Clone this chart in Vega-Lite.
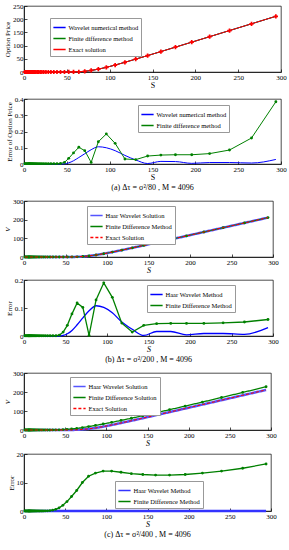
{
  "$schema": "https://vega.github.io/schema/vega-lite/v6.json",
  "padding": {"left": 3, "top": 1, "right": 2, "bottom": 0},
  "background": "white",
  "data": {"values": [
    {"S": 294, "P": 211, "wa": 0.028, "fa": 0.383, "wb": 0.03, "fb": 0.059, "fc": 16.5, "vc": 227.5, "h": 0},
    {"S": 265.6, "P": 182.6, "wa": 0.006, "fa": 0.16, "wb": 0.006, "fb": 0.05, "fc": 15, "vc": 197.6, "h": 0},
    {"S": 239.9, "P": 157, "wa": 0.009, "fa": 0.086, "wb": 0.009, "fb": 0.047, "fc": 14, "vc": 171, "h": 0},
    {"S": 216.7, "P": 133.8, "wa": 0.009, "fa": 0.064, "wb": 0.009, "fb": 0.045, "fc": 13.3, "vc": 147.1, "h": 0},
    {"S": 195.8, "P": 113, "wa": 0.004, "fa": 0.057, "wb": 0.004, "fb": 0.045, "fc": 12.8, "vc": 125.8, "h": 0},
    {"S": 176.8, "P": 94.2, "wa": 0.015, "fa": 0.057, "wb": 0.016, "fb": 0.045, "fc": 12.6, "vc": 106.8, "h": 0},
    {"S": 159.8, "P": 77.4, "wa": 0.016, "fa": 0.055, "wb": 0.016, "fb": 0.044, "fc": 12.6, "vc": 90, "h": 0},
    {"S": 144.3, "P": 62.2, "wa": 0.003, "fa": 0.049, "wb": 0.002, "fb": 0.038, "fc": 12.8, "vc": 75, "h": 0},
    {"S": 130.4, "P": 48.8, "wa": 0.025, "fa": 0.027, "wb": 0.024, "fb": 0.014, "fc": 13.1, "vc": 61.9, "h": 0},
    {"S": 117.8, "P": 36.8, "wa": 0.053, "fa": 0.031, "wb": 0.05, "fb": 0.046, "fc": 13.6, "vc": 50.4, "h": 0},
    {"S": 106.4, "P": 26.3, "wa": 0.082, "fa": 0.127, "wb": 0.083, "fb": 0.138, "fc": 14, "vc": 40.3, "h": 0},
    {"S": 96.1, "P": 17.6, "wa": 0.1, "fa": 0.185, "wb": 0.102, "fb": 0.19, "fc": 14, "vc": 31.6, "h": 0},
    {"S": 86.8, "P": 10.8, "wa": 0.106, "fa": 0.137, "wb": 0.108, "fb": 0.129, "fc": 13.3, "vc": 24.1, "h": 0},
    {"S": 78.4, "P": 5.8, "wa": 0.088, "fa": 0.01, "wb": 0.09, "fb": 0.002, "fc": 12.2, "vc": 18, "h": 0},
    {"S": 70.9, "P": 2.6, "wa": 0.063, "fa": 0.082, "wb": 0.065, "fb": 0.102, "fc": 10, "vc": 12.6, "h": 0},
    {"S": 64, "P": 0.9, "wa": 0.04, "fa": 0.103, "wb": 0.04, "fb": 0.118, "fc": 7.2, "vc": 8.1, "h": 0},
    {"S": 57.8, "P": 0.25, "wa": 0.02, "fa": 0.068, "wb": 0.02, "fb": 0.079, "fc": 5.1, "vc": 5.35, "h": 0},
    {"S": 52.2, "P": 0.05, "wa": 0.007, "fa": 0.035, "wb": 0.008, "fb": 0.038, "fc": 3.3, "vc": 3.35, "h": 0},
    {"S": 47.2, "P": 0, "wa": 0.001, "fa": 0.01, "wb": 0.002, "fb": 0.014, "fc": 2, "vc": 2, "h": 0},
    {"S": 42.6, "P": 0, "wa": 0, "fa": 0.003, "wb": 0, "fb": 0.003, "fc": 1.1, "vc": 1.1, "h": 0},
    {"S": 38.5, "P": 0, "wa": 0, "fa": 0.002, "wb": 0, "fb": 0.001, "fc": 0.6, "vc": 0.6, "h": 0},
    {"S": 34.8, "P": 0, "wa": 0, "fa": 0.002, "wb": 0, "fb": 0.001, "fc": 0.3, "vc": 0.3, "h": 0},
    {"S": 31.4, "P": 0, "wa": 0, "fa": 0.002, "wb": 0, "fb": 0.001, "fc": 0.15, "vc": 0.15, "h": 0},
    {"S": 28.4, "P": 0, "wa": 0, "fa": 0.002, "wb": 0, "fb": 0.001, "fc": 0.06, "vc": 0.06, "h": 0},
    {"S": 25.6, "P": 0, "wa": 0, "fa": 0.002, "wb": 0, "fb": 0.001, "fc": 0.02, "vc": 0.02, "h": 0},
    {"S": 23.1, "P": 0, "wa": 0, "fa": 0.002, "wb": 0, "fb": 0.001, "fc": 0, "vc": 0, "h": 0},
    {"S": 20.9, "P": 0, "wa": 0, "fa": 0.002, "wb": 0, "fb": 0.001, "fc": 0, "vc": 0, "h": 0},
    {"S": 18.9, "P": 0, "wa": 0, "fa": 0.002, "wb": 0, "fb": 0.001, "fc": 0, "vc": 0, "h": 0},
    {"S": 17.1, "P": 0, "wa": 0, "fa": 0.002, "wb": 0, "fb": 0.001, "fc": 0, "vc": 0, "h": 0},
    {"S": 15.4, "P": 0, "wa": 0, "fa": 0.002, "wb": 0, "fb": 0.001, "fc": 0, "vc": 0, "h": 0},
    {"S": 13.9, "P": 0, "wa": 0, "fa": 0.002, "wb": 0, "fb": 0.001, "fc": 0, "vc": 0, "h": 0},
    {"S": 12.6, "P": 0, "wa": 0, "fa": 0.002, "wb": 0, "fb": 0.001, "fc": 0, "vc": 0, "h": 0},
    {"S": 11.4, "P": 0, "wa": 0, "fa": 0.002, "wb": 0, "fb": 0.001, "fc": 0, "vc": 0, "h": 0},
    {"S": 10.3, "P": 0, "wa": 0, "fa": 0.002, "wb": 0, "fb": 0.001, "fc": 0, "vc": 0, "h": 0},
    {"S": 9.3, "P": 0, "wa": 0, "fa": 0.002, "wb": 0, "fb": 0.001, "fc": 0, "vc": 0, "h": 0},
    {"S": 8.4, "P": 0, "wa": 0, "fa": 0.002, "wb": 0, "fb": 0.001, "fc": 0, "vc": 0, "h": 0},
    {"S": 7.6, "P": 0, "wa": 0, "fa": 0.002, "wb": 0, "fb": 0.001, "fc": 0, "vc": 0, "h": 0},
    {"S": 6.8, "P": 0, "wa": 0, "fa": 0.002, "wb": 0, "fb": 0.001, "fc": 0, "vc": 0, "h": 0},
    {"S": 6.2, "P": 0, "wa": 0, "fa": 0.002, "wb": 0, "fb": 0.001, "fc": 0, "vc": 0, "h": 0},
    {"S": 5.6, "P": 0, "wa": 0, "fa": 0.002, "wb": 0, "fb": 0.001, "fc": 0, "vc": 0, "h": 0},
    {"S": 5.0, "P": 0, "wa": 0, "fa": 0.002, "wb": 0, "fb": 0.001, "fc": 0, "vc": 0, "h": 0},
    {"S": 4.0, "P": 0, "wa": 0, "fa": 0.002, "wb": 0, "fb": 0.001, "fc": 0, "vc": 0, "h": 0},
    {"S": 3.0, "P": 0, "wa": 0, "fa": 0.002, "wb": 0, "fb": 0.001, "fc": 0, "vc": 0, "h": 0},
    {"S": 2.0, "P": 0, "wa": 0, "fa": 0.002, "wb": 0, "fb": 0.001, "fc": 0, "vc": 0, "h": 0},
    {"S": 1.0, "P": 0, "wa": 0, "fa": 0.002, "wb": 0, "fb": 0.001, "fc": 0, "vc": 0, "h": 0}
  ]},
  "config": {
    "font": "Liberation Serif",
    "view": {"stroke": "#000", "strokeWidth": 0.7},
    "axis": {"grid": false, "domainColor": "#000", "domainWidth": 0.7, "tickColor": "#000", "tickWidth": 0.7, "tickSize": -3, "labelPadding": 4, "labelFontSize": 7, "labelColor": "#000", "labelFont": "Liberation Serif", "titleFont": "Liberation Serif", "titleFontSize": 8, "titleFontWeight": "normal", "titleColor": "#000", "titlePadding": 0, "labelFlush": false, "labelOverlap": false, "format": "~r"},
    "axisX": {"titleY": 9, "titleBaseline": "top"},
    "axisY": {"titlePadding": 2, "titleFontSize": 7},
    "legend": {"orient": "none", "labelFontSize": 6.5, "labelFont": "Liberation Serif", "labelColor": "#000", "symbolType": "stroke", "symbolSize": 150, "symbolStrokeWidth": 1.5, "rowPadding": 0, "padding": 2.5, "strokeColor": "#999", "fillColor": "#fff", "labelLimit": 200, "labelOffset": 2, "cornerRadius": 0},
    "title": {"fontSize": 8, "fontWeight": "normal", "font": "Liberation Serif", "color": "#000"}
  },
  "spacing": 3,
  "resolve": {"scale": {"color": "independent", "strokeDash": "independent"}},
  "vconcat": [
    {
      "spacing": 4,
      "resolve": {"scale": {"color": "independent", "strokeDash": "independent"}},
      "vconcat": [
        {
          "width": 257, "height": 66,
          "encoding": {
            "x": {"field": "S", "type": "quantitative", "scale": {"domain": [0, 300], "nice": false}, "axis": {"values": [0, 50, 100, 150, 200, 250, 300], "title": "S"}},
            "y": {"field": "P", "type": "quantitative", "scale": {"domain": [0, 250], "nice": false}, "axis": {"values": [0, 50, 100, 150, 200, 250], "title": "Option Price"}}
          },
          "layer": [
            {"mark": {"type": "line", "strokeWidth": 1}, "encoding": {"color": {"datum": "Wavelet numerical method", "title": null, "scale": {"domain": ["Wavelet numerical method", "Finite difference method", "Exact solution"], "range": ["#0000ff", "#008000", "#ff0000"]}, "legend": {"legendX": 26, "legendY": 12}}}},
            {"mark": {"type": "line", "strokeWidth": 1}, "encoding": {"color": {"datum": "Finite difference method", "title": null, "scale": {"domain": ["Wavelet numerical method", "Finite difference method", "Exact solution"], "range": ["#0000ff", "#008000", "#ff0000"]}, "legend": {"legendX": 26, "legendY": 12}}}},
            {"mark": {"type": "line", "strokeWidth": 1}, "encoding": {"color": {"datum": "Exact solution", "title": null, "scale": {"domain": ["Wavelet numerical method", "Finite difference method", "Exact solution"], "range": ["#0000ff", "#008000", "#ff0000"]}, "legend": {"legendX": 26, "legendY": 12}}}},
            {"mark": {"type": "point", "shape": "cross", "filled": true, "size": 18, "opacity": 1}, "encoding": {"color": {"datum": "Exact solution", "title": null, "scale": {"domain": ["Wavelet numerical method", "Finite difference method", "Exact solution"], "range": ["#0000ff", "#008000", "#ff0000"]}, "legend": {"legendX": 26, "legendY": 12}}}}
          ]
        },
        {
          "width": 257, "height": 65,
          "title": {"text": "(a)   Δτ = σ²/80 ,  M = 4096", "orient": "bottom", "offset": 3, "anchor": "middle"},
          "encoding": {
            "x": {"field": "S", "type": "quantitative", "scale": {"domain": [0, 300], "nice": false}, "axis": {"values": [0, 50, 100, 150, 200, 250, 300], "title": "S"}}
          },
          "layer": [
            {"mark": {"type": "line", "strokeWidth": 1, "interpolate": "monotone"}, "encoding": {
              "y": {"field": "wa", "type": "quantitative", "scale": {"domain": [0, 0.4], "nice": false}, "axis": {"values": [0, 0.1, 0.2, 0.3, 0.4], "title": "Error of Option Price"}},
              "color": {"datum": "Wavelet numerical method", "title": null, "scale": {"domain": ["Wavelet numerical method", "Finite difference method"], "range": ["#0000ff", "#008000"]}, "legend": {"legendX": 114, "legendY": 6}}}},
            {"mark": {"type": "line", "strokeWidth": 1, "point": {"filled": true, "size": 8}}, "encoding": {
              "y": {"field": "fa", "type": "quantitative", "scale": {"domain": [0, 0.4], "nice": false}, "axis": {"values": [0, 0.1, 0.2, 0.3, 0.4], "title": "Error of Option Price"}},
              "color": {"datum": "Finite difference method", "title": null, "scale": {"domain": ["Wavelet numerical method", "Finite difference method"], "range": ["#0000ff", "#008000"]}, "legend": {"legendX": 114, "legendY": 6}}}}
          ]
        }
      ]
    },
    {
      "spacing": 0,
      "resolve": {"scale": {"color": "independent", "strokeDash": "independent"}},
      "vconcat": [
        {
          "width": 249, "height": 56,
          "encoding": {
            "x": {"field": "S", "type": "quantitative", "scale": {"domain": [0, 300], "nice": false}, "axis": {"values": [0, 50, 100, 150, 200, 250, 300], "title": "S", "titleFontStyle": "italic"}},
            "y": {"field": "P", "type": "quantitative", "scale": {"domain": [0, 300], "nice": false}, "axis": {"values": [0, 100, 200, 300], "title": "V", "titleFontStyle": "italic"}}
          },
          "layer": [
            {"mark": {"type": "line", "strokeWidth": 2.5}, "encoding": {
              "color": {"datum": "Haar Wavelet Solution", "title": null, "scale": {"domain": ["Haar Wavelet Solution", "Finite Difference Method", "Exact Solution"], "range": ["#5555ff", "#008000", "#ff0000"]}, "legend": {"legendX": 63, "legendY": 5}},
              "strokeDash": {"datum": "Haar Wavelet Solution", "title": null, "scale": {"domain": ["Haar Wavelet Solution", "Finite Difference Method", "Exact Solution"], "range": [[1, 0], [1, 0], [3, 2]]}, "legend": {"legendX": 63, "legendY": 5}}}},
            {"mark": {"type": "line", "strokeWidth": 1, "point": {"filled": true, "size": 8}}, "encoding": {
              "color": {"datum": "Finite Difference Method", "title": null, "scale": {"domain": ["Haar Wavelet Solution", "Finite Difference Method", "Exact Solution"], "range": ["#5555ff", "#008000", "#ff0000"]}, "legend": {"legendX": 63, "legendY": 5}},
              "strokeDash": {"datum": "Finite Difference Method", "title": null, "scale": {"domain": ["Haar Wavelet Solution", "Finite Difference Method", "Exact Solution"], "range": [[1, 0], [1, 0], [3, 2]]}, "legend": {"legendX": 63, "legendY": 5}}}},
            {"mark": {"type": "line", "strokeWidth": 1}, "encoding": {
              "color": {"datum": "Exact Solution", "title": null, "scale": {"domain": ["Haar Wavelet Solution", "Finite Difference Method", "Exact Solution"], "range": ["#5555ff", "#008000", "#ff0000"]}, "legend": {"legendX": 63, "legendY": 5}},
              "strokeDash": {"datum": "Exact Solution", "title": null, "scale": {"domain": ["Haar Wavelet Solution", "Finite Difference Method", "Exact Solution"], "range": [[1, 0], [1, 0], [3, 2]]}, "legend": {"legendX": 63, "legendY": 5}}}}
          ]
        },
        {
          "width": 249, "height": 56,
          "title": {"text": "(b)   Δτ = σ²/200 ,  M = 4096", "orient": "bottom", "offset": 3, "anchor": "middle"},
          "encoding": {
            "x": {"field": "S", "type": "quantitative", "scale": {"domain": [0, 300], "nice": false}, "axis": {"values": [0, 50, 100, 150, 200, 250, 300], "title": "S", "titleFontStyle": "italic"}}
          },
          "layer": [
            {"mark": {"type": "line", "strokeWidth": 1.3, "interpolate": "monotone"}, "encoding": {
              "y": {"field": "wb", "type": "quantitative", "scale": {"domain": [0, 0.2], "nice": false}, "axis": {"values": [0, 0.1, 0.2], "title": "Error"}},
              "color": {"datum": "Haar Wavelet Method", "title": null, "scale": {"domain": ["Haar Wavelet Method", "Finite Difference Method"], "range": ["#0000ff", "#008000"]}, "legend": {"legendX": 123, "legendY": 5}}}},
            {"mark": {"type": "line", "strokeWidth": 1.3, "point": {"filled": true, "size": 8}}, "encoding": {
              "y": {"field": "fb", "type": "quantitative", "scale": {"domain": [0, 0.2], "nice": false}, "axis": {"values": [0, 0.1, 0.2], "title": "Error"}},
              "color": {"datum": "Finite Difference Method", "title": null, "scale": {"domain": ["Haar Wavelet Method", "Finite Difference Method"], "range": ["#0000ff", "#008000"]}, "legend": {"legendX": 123, "legendY": 5}}}}
          ]
        }
      ]
    },
    {
      "spacing": 1,
      "resolve": {"scale": {"color": "independent", "strokeDash": "independent"}},
      "vconcat": [
        {
          "width": 247, "height": 57,
          "encoding": {
            "x": {"field": "S", "type": "quantitative", "scale": {"domain": [0, 300], "nice": false}, "axis": {"values": [0, 50, 100, 150, 200, 250, 300], "title": "S", "titleFontStyle": "italic"}}
          },
          "layer": [
            {"mark": {"type": "line", "strokeWidth": 2.5}, "encoding": {
              "y": {"field": "P", "type": "quantitative", "scale": {"domain": [0, 300], "nice": false}, "axis": {"values": [0, 100, 200, 300], "title": "V", "titleFontStyle": "italic"}},
              "color": {"datum": "Haar Wavelet Solution", "title": null, "scale": {"domain": ["Haar Wavelet Solution", "Finite Difference Solution", "Exact Solution"], "range": ["#5555ff", "#008000", "#ff0000"]}, "legend": {"legendX": 46, "legendY": 4}},
              "strokeDash": {"datum": "Haar Wavelet Solution", "title": null, "scale": {"domain": ["Haar Wavelet Solution", "Finite Difference Solution", "Exact Solution"], "range": [[1, 0], [1, 0], [3, 2]]}, "legend": {"legendX": 46, "legendY": 4}}}},
            {"mark": {"type": "line", "strokeWidth": 1.3, "point": {"filled": true, "size": 8}}, "encoding": {
              "y": {"field": "vc", "type": "quantitative", "scale": {"domain": [0, 300], "nice": false}, "axis": {"values": [0, 100, 200, 300], "title": "V", "titleFontStyle": "italic"}},
              "color": {"datum": "Finite Difference Solution", "title": null, "scale": {"domain": ["Haar Wavelet Solution", "Finite Difference Solution", "Exact Solution"], "range": ["#5555ff", "#008000", "#ff0000"]}, "legend": {"legendX": 46, "legendY": 4}},
              "strokeDash": {"datum": "Finite Difference Solution", "title": null, "scale": {"domain": ["Haar Wavelet Solution", "Finite Difference Solution", "Exact Solution"], "range": [[1, 0], [1, 0], [3, 2]]}, "legend": {"legendX": 46, "legendY": 4}}}},
            {"mark": {"type": "line", "strokeWidth": 1}, "encoding": {
              "y": {"field": "P", "type": "quantitative", "scale": {"domain": [0, 300], "nice": false}, "axis": {"values": [0, 100, 200, 300], "title": "V", "titleFontStyle": "italic"}},
              "color": {"datum": "Exact Solution", "title": null, "scale": {"domain": ["Haar Wavelet Solution", "Finite Difference Solution", "Exact Solution"], "range": ["#5555ff", "#008000", "#ff0000"]}, "legend": {"legendX": 46, "legendY": 4}},
              "strokeDash": {"datum": "Exact Solution", "title": null, "scale": {"domain": ["Haar Wavelet Solution", "Finite Difference Solution", "Exact Solution"], "range": [[1, 0], [1, 0], [3, 2]]}, "legend": {"legendX": 46, "legendY": 4}}}}
          ]
        },
        {
          "width": 247, "height": 57,
          "title": {"text": "(c)   Δτ = σ²/400 ,  M = 4096", "orient": "bottom", "offset": 3, "anchor": "middle"},
          "encoding": {
            "x": {"field": "S", "type": "quantitative", "scale": {"domain": [0, 300], "nice": false}, "axis": {"values": [0, 50, 100, 150, 200, 250, 300], "title": "S", "titleFontStyle": "italic"}}
          },
          "layer": [
            {"mark": {"type": "line", "strokeWidth": 2.5}, "encoding": {
              "y": {"field": "h", "type": "quantitative", "scale": {"domain": [0, 20], "nice": false}, "axis": {"values": [0, 10, 20], "title": "Error"}},
              "color": {"datum": "Haar Wavelet Method", "title": null, "scale": {"domain": ["Haar Wavelet Method", "Finite Difference Method"], "range": ["#3333ff", "#008000"]}, "legend": {"legendX": 91, "legendY": 27}}}},
            {"mark": {"type": "line", "strokeWidth": 1.3, "point": {"filled": true, "size": 8}}, "encoding": {
              "y": {"field": "fc", "type": "quantitative", "scale": {"domain": [0, 20], "nice": false}, "axis": {"values": [0, 10, 20], "title": "Error"}},
              "color": {"datum": "Finite Difference Method", "title": null, "scale": {"domain": ["Haar Wavelet Method", "Finite Difference Method"], "range": ["#3333ff", "#008000"]}, "legend": {"legendX": 91, "legendY": 27}}}}
          ]
        }
      ]
    }
  ]
}
